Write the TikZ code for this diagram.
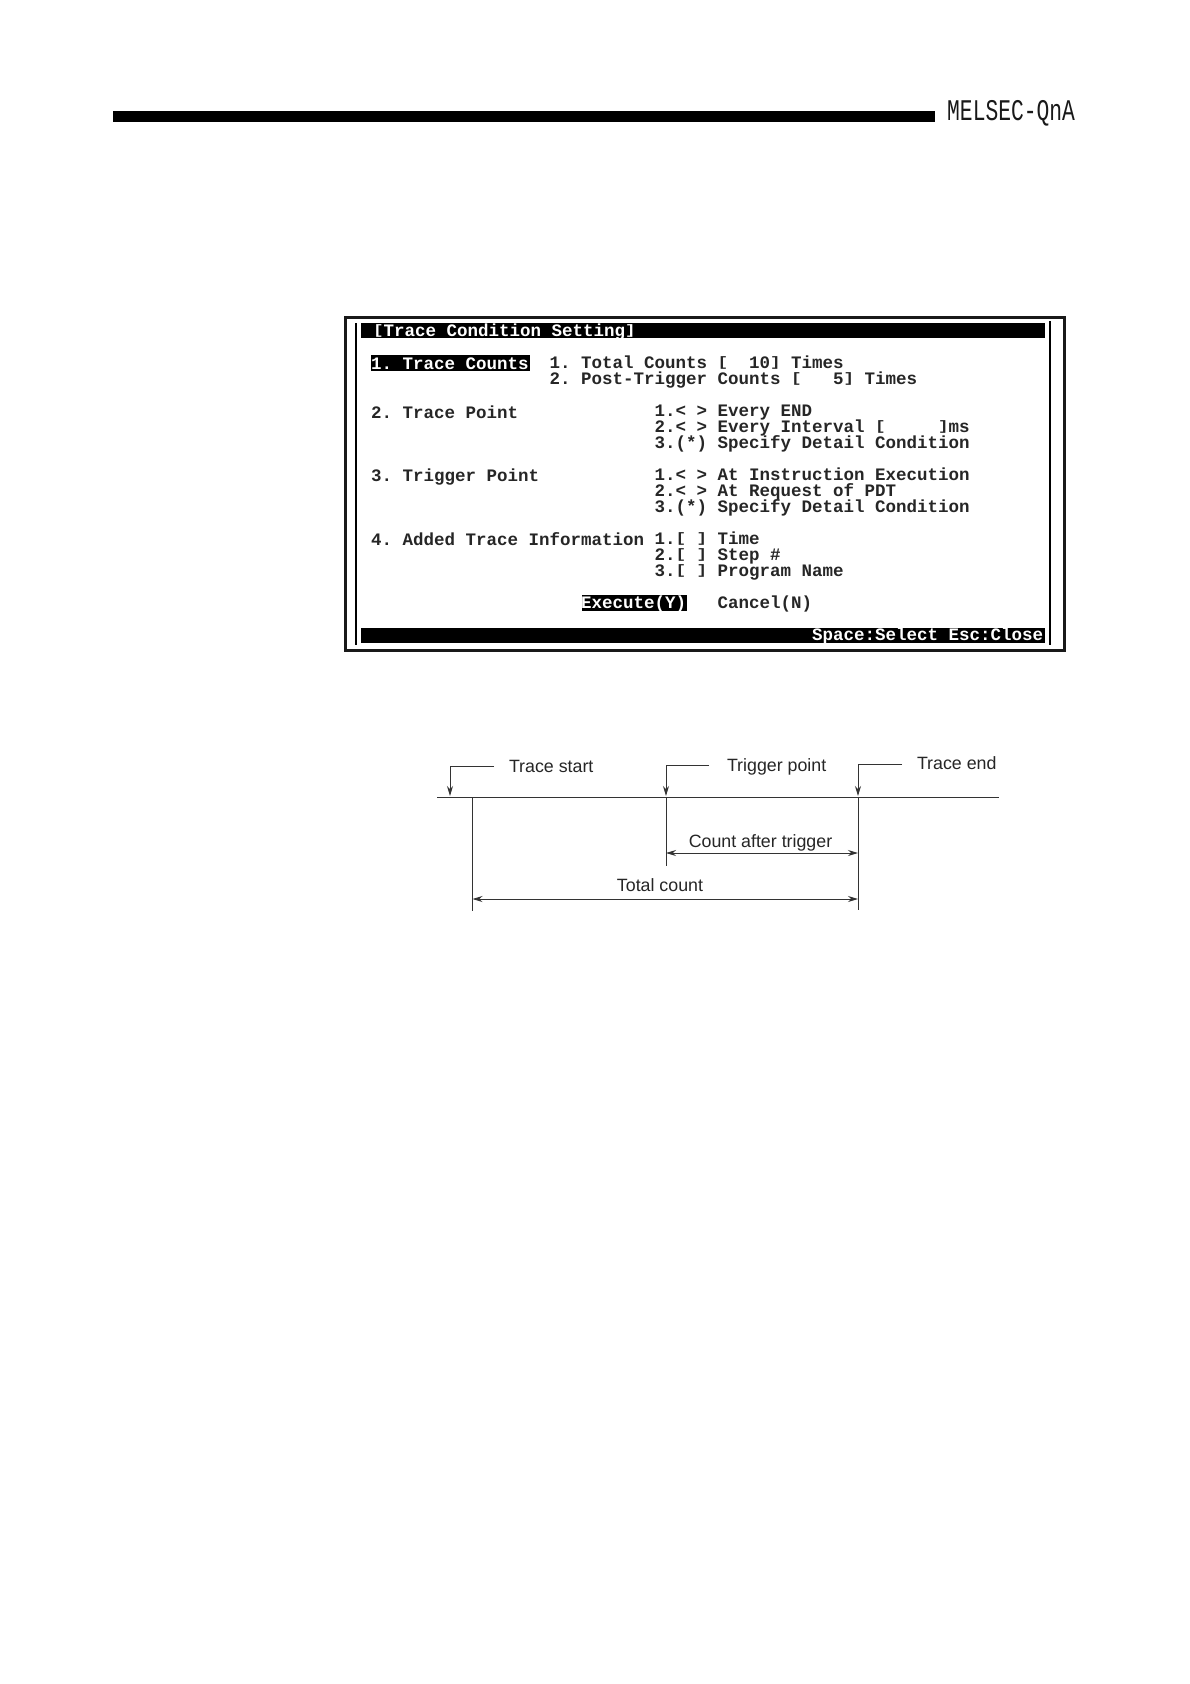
\documentclass[tikz,border=0pt]{standalone}
\usepackage{fontspec}
\setmainfont{Liberation Sans}
\newfontfamily\scrfont{Liberation Mono}
\usetikzlibrary{arrows.meta}
\newcommand{\lbk}{\raisebox{2.2pt}{\scalebox{1}[0.78]{[}}}
\newcommand{\rbk}{\raisebox{2.2pt}{\scalebox{1}[0.78]{]}}}
\tikzset{
  scrtext/.style={anchor=base west,inner sep=0pt,outer sep=0pt,font=\scrfont\bfseries\frenchspacing\fontsize{17.5}{17.5}\selectfont,text=black!85},
  invtext/.style={scrtext,text=white},
  lbl/.style={inner sep=0pt,outer sep=0pt,font=\fontsize{17.8}{18}\selectfont,text=black!85},
  thinln/.style={draw=black!80,line width=0.9pt},
  marker/.style={thinln,-{Stealth[length=10pt,width=6pt]}},
  span/.style={thinln,{Stealth[length=10pt,width=6pt]}-{Stealth[length=10pt,width=6pt]}}
}
\newcommand{\scrline}[4]{\node[scrtext] (#1) at ({371+10.5*(#2)},#3) {#4};}
\newcommand{\invline}[4]{\node[invtext] (#1) at ({371+10.5*(#2)},#3) {#4};}
\begin{document}
\begin{tikzpicture}[x=1pt,y=-1pt]
\useasboundingbox (0,0) rectangle (1190,1684);
\fill[white] (0,0) rectangle (1190,1684);
% header
\fill[black] (113,111) rectangle (935,122);
\node[anchor=base west,inner sep=0pt,font=\fontsize{30}{30}\selectfont,text=black!90] (brand) at (947,120) {\scalebox{0.71}[1]{\scrfont MELSEC-QnA}};
% screen frame
\draw[black!90,line width=3pt] (345,317) rectangle (1064,650);
\draw[black,line width=2.2pt] (356,323) -- (356,645);
\draw[black,line width=2.2pt] (1050,321) -- (1050,645);
\fill[black] (361,323) rectangle (1045,338);
\fill[black] (361,628) rectangle (1045,643);
\fill[black] (371,355) rectangle (530,371);
\fill[black] (582,595) rectangle (687,611);
% screen text
\invline{title}{0.2}{336.5}{\lbk Trace Condition Setting\rbk}
\invline{m1}{0}{369}{1. Trace Counts}
\scrline{a1}{17}{368.5}{1. Total Counts \lbk~~10\rbk{} Times}
\scrline{a2}{17}{384.5}{2. Post-Trigger Counts \lbk~~~5\rbk{} Times}
\scrline{m2}{0}{418}{2. Trace Point}
\scrline{b1}{27}{416.5}{1.< > Every END}
\scrline{b2}{27}{432.5}{2.< > Every Interval \lbk~~~~~\rbk{}ms}
\scrline{b3}{27}{448.5}{3.(*) Specify Detail Condition}
\scrline{m3}{0}{481.5}{3. Trigger Point}
\scrline{c1}{27}{480.5}{1.< > At Instruction Execution}
\scrline{c2}{27}{496.5}{2.< > At Request of PDT}
\scrline{c3}{27}{512.5}{3.(*) Specify Detail Condition}
\scrline{m4}{0}{545}{4. Added Trace Information}
\scrline{d1}{27}{544.5}{1.\lbk~\rbk{} Time}
\scrline{d2}{27}{560.5}{2.\lbk~\rbk{} Step \#}
\scrline{d3}{27}{576.5}{3.\lbk~\rbk{} Program Name}
\invline{exe}{20}{608.5}{Execute(Y)}
\scrline{can}{33}{608.5}{Cancel(N)}
\invline{keys}{42}{640.5}{Space:Select Esc:Close}
% timing diagram
\coordinate (tlL) at (437,797);
\coordinate (tlR) at (999,797);
\draw[thinln] (tlL) -- (tlR);
\node[lbl,anchor=west] (ts) at (509,766) {Trace start};
\node[lbl,anchor=west] (tp) at (727,766.5) {Trigger point};
\node[lbl,anchor=west] (te) at (917,763) {Trace end};
\coordinate (tsH) at (494,766); \coordinate (tsC) at (450,766); \coordinate (tsA) at (450,796);
\coordinate (tpH) at (709,765); \coordinate (tpC) at (666,765); \coordinate (tpA) at (666,796);
\coordinate (teH) at (902,764); \coordinate (teC) at (858,764); \coordinate (teA) at (858,796);
\draw[marker] (tsH) -- (tsC) -- (tsA);
\draw[marker] (tpH) -- (tpC) -- (tpA);
\draw[marker] (teH) -- (teC) -- (teA);
\coordinate (v1a) at (472.5,798); \coordinate (v1b) at (472.5,911);
\coordinate (v2a) at (666,798);   \coordinate (v2b) at (666,866);
\coordinate (v3a) at (858,798);   \coordinate (v3b) at (858,910);
\draw[thinln] (v1a) -- (v1b);
\draw[thinln] (v2a) -- (v2b);
\draw[thinln] (v3a) -- (v3b);
\coordinate (s1a) at (666,853); \coordinate (s1b) at (858,853);
\coordinate (s2a) at (472.5,899); \coordinate (s2b) at (858,899);
\draw[span] (s1a) -- (s1b);
\draw[span] (s2a) -- (s2b);
\node[lbl] (cat) at (760.5,842.5) {Count after trigger};
\node[lbl] (tc) at (660,885) {Total count};
\end{tikzpicture}
\end{document}
